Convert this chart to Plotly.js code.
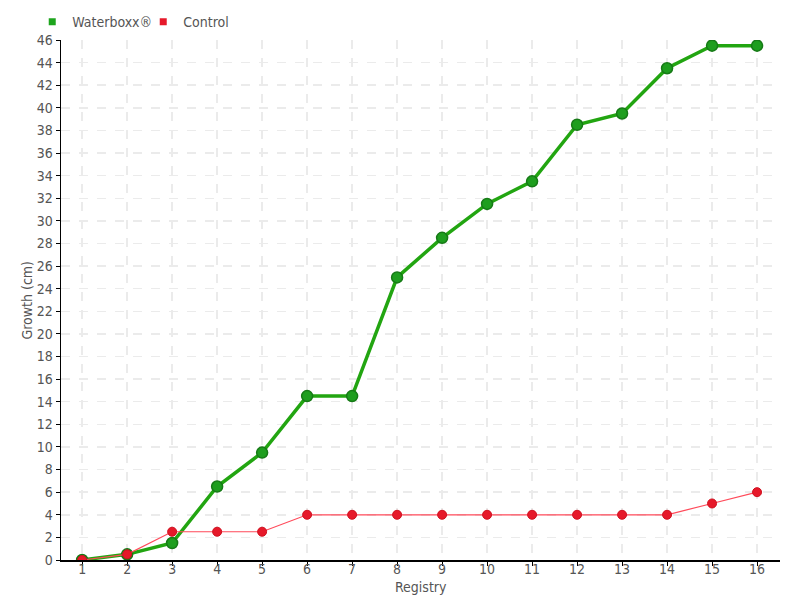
<!DOCTYPE html>
<html>
<head>
<meta charset="utf-8">
<script src="https://cdn.plot.ly/plotly-3.0.1.min.js"></script>
<style>body{margin:0;padding:0;background:#fff}#chart{width:800px;height:600px}</style>
</head>
<body>
<div id="chart"></div>
<script>
const registry = [1,2,3,4,5,6,7,8,9,10,11,12,13,14,15,16];
const waterboxx = [0,0.5,1.5,6.5,9.5,14.5,14.5,25,28.5,31.5,33.5,38.5,39.5,43.5,45.5,45.5];
const control = [0,0.5,2.5,2.5,2.5,4,4,4,4,4,4,4,4,4,5,6];
const yTicks = [0,2,4,6,8,10,12,14,16,18,20,22,24,26,28,30,32,34,36,38,40,42,44,46];

const fontFam = "'DejaVu Sans Condensed', 'Roboto', sans-serif";

const traces = [
  {
    x: registry, y: waterboxx, name: 'Waterboxx®', type: 'scatter', mode: 'lines+markers',
    showlegend: false,
    line: {color: '#22a511', width: 3.5},
    marker: {color: '#1e9e1e', size: 11, line: {color: '#167a16', width: 1.5}, symbol: 'circle'}
  },
  {
    x: registry, y: control, name: 'Control', type: 'scatter', mode: 'lines+markers',
    showlegend: false,
    line: {color: '#ff4a5a', width: 1.2},
    marker: {color: '#e6192a', size: 9, line: {color: '#d0101f', width: 1}}
  },
  {
    x: [null], y: [null], name: 'Waterboxx®', type: 'scatter', mode: 'markers',
    marker: {color: '#1ea51e', size: 7, symbol: 'square'}
  },
  {
    x: [null], y: [null], name: 'Control', type: 'scatter', mode: 'markers',
    marker: {color: '#e6192a', size: 7, symbol: 'square'}
  }
];

const layout = {
  width: 800, height: 600,
  margin: {l: 61, r: 20, t: 40, b: 40},
  paper_bgcolor: '#fff', plot_bgcolor: '#fff',
  font: {family: fontFam, color: '#555', size: 14},
  showlegend: true,
  legend: {orientation: 'h', x: -0.040, xref: 'paper', xanchor: 'left',
    y: 0.963, yref: 'container', yanchor: 'middle',
    bgcolor: 'rgba(0,0,0,0)', font: {size: 14, color: '#555'},
    itemwidth: 30, entrywidth: 66, entrywidthmode: 'pixels', tracegroupgap: 0, itemclick: false},
  xaxis: {
    range: [0.53, 16.51], tickvals: registry, ticktext: registry.map(String),
    showline: true, linecolor: '#000', linewidth: 1.5,
    ticks: 'outside', ticklen: 4, tickcolor: '#000',
    ticklabelstandoff: -8,
    showgrid: true, gridcolor: '#ebebeb', griddash: 'dash', gridwidth: 1.5,
    zeroline: false,
    tickfont: {size: 14, color: '#555'}
  },
  yaxis: {
    range: [0, 46], tickvals: yTicks,
    showline: true, linecolor: '#000', linewidth: 1.5,
    ticks: 'outside', ticklen: 4, tickcolor: '#000',
    showgrid: true, gridcolor: '#ebebeb', griddash: 'dash', gridwidth: 1.5,
    zeroline: false,
    tickfont: {size: 14, color: '#555'}
  },
  annotations: [
    {text: 'Registry', xref: 'paper', yref: 'paper', x: 0.5, y: -0.0335, xanchor: 'center', yanchor: 'top',
     showarrow: false, font: {size: 14, color: '#555'}},
    {text: 'Growth (cm)', xref: 'paper', yref: 'paper', x: -0.034, y: 0.5, xanchor: 'right', yanchor: 'middle',
     textangle: -90, showarrow: false, font: {size: 14, color: '#555'}}
  ]
};

Plotly.newPlot('chart', traces, layout, {displayModeBar: false, staticPlot: true});
</script>
</body>
</html>
